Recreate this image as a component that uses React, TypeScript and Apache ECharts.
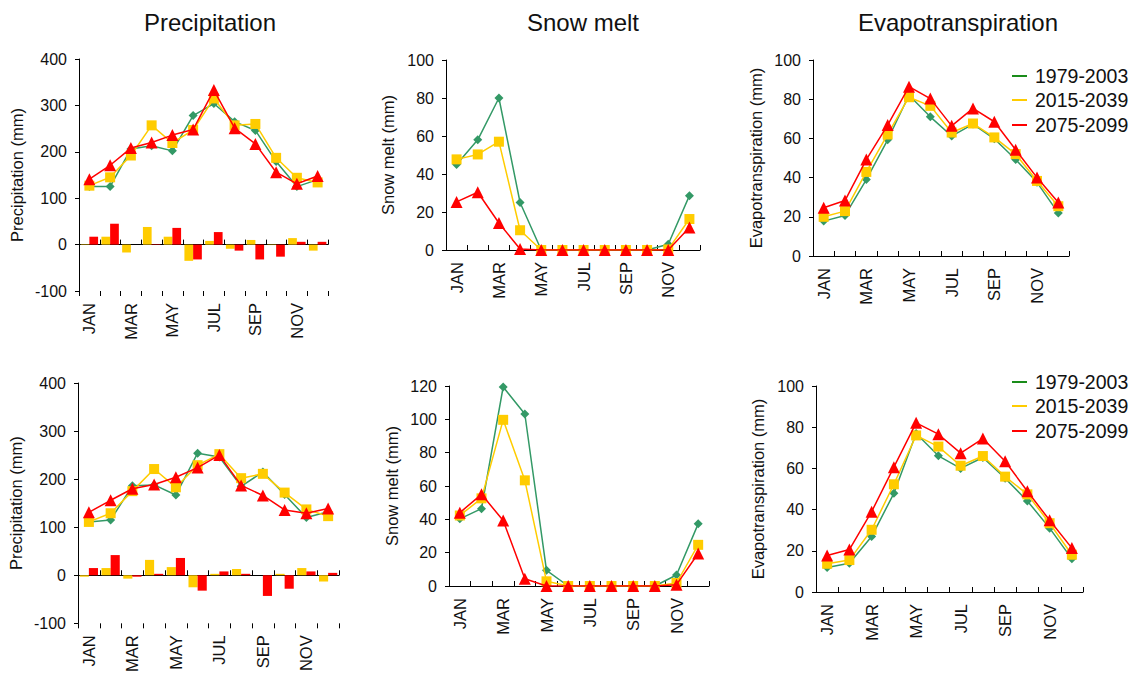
import React, { useEffect, useRef } from 'react';
import * as echarts from 'echarts';

const months = ['JAN', 'FEB', 'MAR', 'APR', 'MAY', 'JUN', 'JUL', 'AUG', 'SEP', 'OCT', 'NOV', 'DEC'];
const periods = ['1979-2003', '2015-2039', '2075-2099'];
const titles = ['Precipitation', 'Snow melt', 'Evapotranspiration'];

// Row 1
const precip1Hist = [125, 125, 206, 213, 202, 278, 304, 265, 246, 179, 125, 140];
const precip1Mid = [127, 145, 192, 257, 219, 247, 315, 257, 260, 187, 144, 134];
const precip1End = [141, 171, 208, 220, 236, 248, 333, 251, 217, 156, 131, 148];
const precip1MidDiff = [1, 17, -17, 38, 17, -35, 8, -9, 10, -1, 14, -13];
const precip1EndDiff = [17, 45, 0, 1, 36, -32, 27, -13, -32, -26, 6, 6];

const snow1Hist = [45, 58, 80, 25, 0, 0, 0, 0, 0, 0, 3, 28.6];
const snow1Mid = [47.7, 50.3, 57, 10.4, 0, 0, 0, 0, 0, 0, 0.3, 16.3];
const snow1End = [25.3, 30.4, 14.2, 0.5, 0, 0, 0, 0, 0, 0, 0, 11.8];

const et1Hist = [17.8, 20.7, 39, 59.3, 82, 71, 61.2, 67.3, 59.8, 49.2, 37.6, 21.9];
const et1Mid = [20, 22.9, 42.9, 62, 81, 76.6, 63, 67.6, 60.5, 52, 38.3, 25.4];
const et1End = [24.6, 28.3, 49.2, 66.8, 86.4, 80.3, 66.4, 75.3, 68.5, 54.2, 40, 27.3];

// Row 2
const precip2Hist = [111, 115, 186, 188, 167, 254, 246, 185, 215, 168, 120, 132];
const precip2Mid = [111, 129, 175, 221, 183, 229, 252, 202, 211, 172, 137, 123];
const precip2End = [131, 156, 180, 189, 204, 224, 250, 187, 166, 136, 129, 139];
const precip2MidDiff = [-3, 15, -7, 32, 17, -25, 3, 13, 0, 3, 15, -13];
const precip2EndDiff = [15, 42, -3, 3, 36, -32, 8, 3, -43, -28, 8, 5];

const snow2Hist = [40.3, 46.4, 119.4, 103.2, 9.4, 0, 0, 0, 0, 0, 6.6, 37.3];
const snow2Mid = [42.3, 52.6, 99.7, 63.4, 2.8, 0, 0, 0, 0, 0, 1.8, 24.7];
const snow2End = [44, 55, 39.3, 4.4, 0, 0, 0, 0, 0, 0, 0.8, 19.5];

const et2Hist = [11.9, 14, 26.9, 47.9, 76.9, 66.1, 60, 65.3, 55.2, 44.2, 31, 16.1];
const et2Mid = [13.7, 15.5, 30.2, 52.3, 76, 70.6, 61.3, 66, 56, 47.4, 33.4, 18.1];
const et2End = [17.7, 20.6, 39, 60.6, 82.1, 76.6, 67.4, 74.5, 63.5, 48.9, 34.8, 21.3];

const FONT = '"Liberation Sans", Arial, Helvetica, sans-serif';
const GREEN = '#339966';
const YELLOW = '#ffcc00';
const RED = '#ff0000';
const LEGEND_GREEN = '#1a8c1a';
const TXT = '#111';

type Panel = {
  grid: { left: number; top: number; width: number; height: number };
  min: number; max: number; interval: number;
  name: string; nameGap: number;
  lines: number[][];
  bars?: number[][];
};

const panels: Panel[] = [
  { grid: { left: 79, top: 59, width: 249, height: 232 }, min: -100, max: 400, interval: 100, name: 'Precipitation (mm)', nameGap: 54, lines: [precip1Hist, precip1Mid, precip1End], bars: [precip1MidDiff, precip1EndDiff] },
  { grid: { left: 446, top: 60, width: 254, height: 190 }, min: 0, max: 100, interval: 20, name: 'Snow melt (mm)', nameGap: 50, lines: [snow1Hist, snow1Mid, snow1End] },
  { grid: { left: 813, top: 60, width: 256, height: 196 }, min: 0, max: 100, interval: 20, name: 'Evapotranspiration (mm)', nameGap: 49, lines: [et1Hist, et1Mid, et1End] },
  { grid: { left: 78, top: 383, width: 261, height: 242 }, min: -100, max: 400, interval: 100, name: 'Precipitation (mm)', nameGap: 54, lines: [precip2Hist, precip2Mid, precip2End], bars: [precip2MidDiff, precip2EndDiff] },
  { grid: { left: 449, top: 386, width: 260, height: 200 }, min: 0, max: 120, interval: 20, name: 'Snow melt (mm)', nameGap: 49, lines: [snow2Hist, snow2Mid, snow2End] },
  { grid: { left: 816, top: 386, width: 267, height: 206 }, min: 0, max: 100, interval: 20, name: 'Evapotranspiration (mm)', nameGap: 50, lines: [et2Hist, et2Mid, et2End] },
];

const lineStyles = [
  { color: GREEN, symbol: 'diamond', size: 9 },
  { color: YELLOW, symbol: 'rect', size: 10 },
  { color: RED, symbol: 'triangle', size: 12 },
];

function buildOption() {
  const grids: any[] = [];
  const xAxes: any[] = [];
  const yAxes: any[] = [];
  const series: any[] = [];

  panels.forEach((p, gi) => {
    grids.push({ ...p.grid, containLabel: false });
    yAxes.push({
      type: 'value', gridIndex: gi, min: p.min, max: p.max, interval: p.interval,
      axisLine: { show: true, lineStyle: { color: '#000', width: 1 } },
      axisTick: { show: true, length: 4, lineStyle: { color: '#000' } },
      splitLine: { show: false },
      axisLabel: { fontSize: 16, color: TXT, margin: 12, fontFamily: FONT },
      name: p.name, nameLocation: 'middle', nameRotate: 90, nameGap: p.nameGap,
      nameTextStyle: { fontSize: 16.5, color: TXT, fontFamily: FONT },
    });
    const mainIdx = xAxes.length;
    xAxes.push({
      type: 'category', gridIndex: gi, data: months, boundaryGap: true, position: 'bottom',
      axisLine: { show: true, onZero: true, lineStyle: { color: '#000', width: 1 } },
      axisTick: { show: true, inside: true, length: 5, interval: 0, lineStyle: { color: '#000' } },
      axisLabel: { show: false },
    });
    xAxes.push({
      type: 'category', gridIndex: gi, data: months, boundaryGap: true, position: 'bottom',
      axisLine: { show: false, onZero: false },
      axisTick: { show: false },
      axisLabel: { show: true, interval: 1, rotate: 90, margin: 12, fontSize: 16.5, color: TXT, fontFamily: FONT },
    });
    if (p.bars) {
      xAxes.push({
        type: 'category', gridIndex: gi, data: months, boundaryGap: true, position: 'bottom',
        axisLine: { show: false, onZero: true },
        axisTick: { show: true, inside: false, length: 5, interval: 0, lineStyle: { color: '#000' } },
        axisLabel: { show: false },
      });
      [YELLOW, RED].forEach((c, bi) => {
        series.push({
          type: 'bar', xAxisIndex: mainIdx, yAxisIndex: gi, data: p.bars![bi],
          barGap: '0%', barCategoryGap: '16%', itemStyle: { color: c }, z: 1,
        });
      });
    }
    p.lines.forEach((d, li) => {
      const s = lineStyles[li];
      series.push({
        type: 'line', name: periods[li], xAxisIndex: mainIdx, yAxisIndex: gi, data: d,
        symbol: s.symbol, symbolSize: s.size, showSymbol: true,
        lineStyle: { color: s.color, width: 1.5 }, itemStyle: { color: s.color },
        z: 3 + li,
      });
    });
  });

  const graphics: any[] = [];
  const titleX = [210, 583, 958];
  titles.forEach((t, i) => {
    graphics.push({
      type: 'text', x: titleX[i], y: 22,
      style: { text: t, fontSize: 24, fontFamily: FONT, fill: TXT, textAlign: 'center', textVerticalAlign: 'middle' },
    });
  });
  const legendColors = [LEGEND_GREEN, YELLOW, RED];
  [[76, 100, 125], [382, 406, 431]].forEach((ys) => {
    ys.forEach((y, i) => {
      graphics.push({ type: 'line', shape: { x1: 1012, y1: y, x2: 1027, y2: y }, style: { stroke: legendColors[i], lineWidth: 2 } });
      graphics.push({
        type: 'text', x: 1035, y,
        style: { text: periods[i], fontSize: 19.5, fontFamily: FONT, fill: TXT, textAlign: 'left', textVerticalAlign: 'middle' },
      });
    });
  });

  return {
    animation: false,
    backgroundColor: '#fff',
    textStyle: { fontFamily: FONT },
    grid: grids,
    xAxis: xAxes,
    yAxis: yAxes,
    series,
    graphic: graphics,
  };
}

export default function App() {
  const ref = useRef<HTMLDivElement>(null);
  useEffect(() => {
    const chart = echarts.init(ref.current!, null, { renderer: 'svg' });
    chart.setOption(buildOption() as any);
    return () => chart.dispose();
  }, []);
  return <div ref={ref} style={{ position: 'absolute', left: 0, top: 0, width: 1137, height: 675, background: '#fff' }} />;
}
